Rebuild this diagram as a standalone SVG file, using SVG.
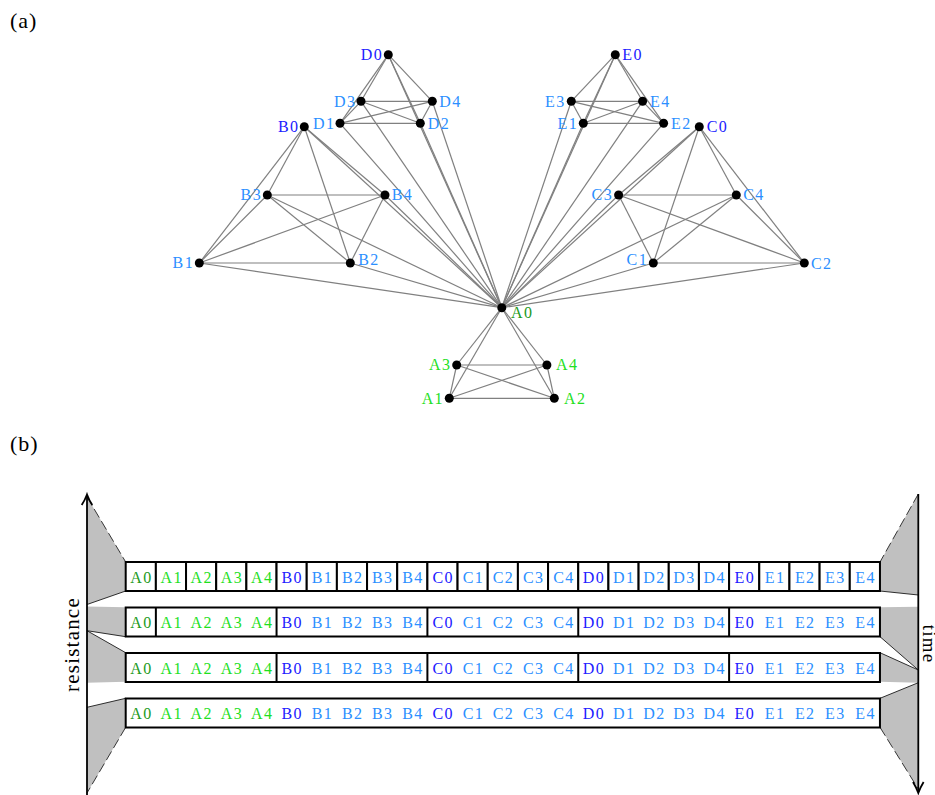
<svg xmlns="http://www.w3.org/2000/svg" width="935" height="795" viewBox="0 0 935 795">
<style>
.lab{font-family:"Liberation Serif","Times New Roman",serif;font-size:16px;letter-spacing:1.4px}
.big{font-family:"Liberation Serif","Times New Roman",serif;font-size:22px;letter-spacing:1px}
.ax{font-family:"Liberation Serif","Times New Roman",serif;font-size:21px;letter-spacing:1.2px}
.ag{fill:#229a22}.al{fill:#1ee01e}.ld{fill:#2020ff}.mb{fill:#2b8fff}
.dot{fill:#000}
.e line{stroke:#808080;stroke-width:1.2}
.cell{fill:#fff;stroke:#000;stroke-width:2}
.div{stroke:#000;stroke-width:2}
.gr{fill:#c0c0c0;stroke:none}
.sl{stroke:#000;stroke-width:0.8;fill:none}
.dl{stroke:#222;stroke-width:0.9;fill:none;stroke-dasharray:10 4}
.axis{stroke:#000;stroke-width:1.8;fill:none}
</style>
<text class="big" x="10" y="28">(a)</text>
<text class="big" x="10" y="451">(b)</text>
<g id="connectors" class="e">
<line x1="501.8" y1="307.7" x2="449.3" y2="398.3"/><line x1="501.8" y1="307.7" x2="554.3" y2="398.3"/><line x1="501.8" y1="307.7" x2="456.7" y2="365"/><line x1="501.8" y1="307.7" x2="546.9" y2="365"/>
<line x1="449.3" y1="398.3" x2="554.3" y2="398.3"/><line x1="449.3" y1="398.3" x2="456.7" y2="365"/><line x1="449.3" y1="398.3" x2="546.9" y2="365"/><line x1="554.3" y1="398.3" x2="456.7" y2="365"/><line x1="554.3" y1="398.3" x2="546.9" y2="365"/><line x1="456.7" y1="365" x2="546.9" y2="365"/>
<line x1="304.3" y1="126.7" x2="199.3" y2="263"/><line x1="304.3" y1="126.7" x2="350.3" y2="263"/><line x1="304.3" y1="126.7" x2="267.3" y2="195"/><line x1="304.3" y1="126.7" x2="385" y2="195"/>
<line x1="199.3" y1="263" x2="350.3" y2="263"/><line x1="199.3" y1="263" x2="267.3" y2="195"/><line x1="199.3" y1="263" x2="385" y2="195"/><line x1="350.3" y1="263" x2="267.3" y2="195"/><line x1="350.3" y1="263" x2="385" y2="195"/><line x1="267.3" y1="195" x2="385" y2="195"/>
<line x1="699.3" y1="126.7" x2="653.3" y2="263"/><line x1="699.3" y1="126.7" x2="804.3" y2="263"/><line x1="699.3" y1="126.7" x2="618.6" y2="195"/><line x1="699.3" y1="126.7" x2="736.3" y2="195"/>
<line x1="653.3" y1="263" x2="804.3" y2="263"/><line x1="653.3" y1="263" x2="618.6" y2="195"/><line x1="653.3" y1="263" x2="736.3" y2="195"/><line x1="804.3" y1="263" x2="618.6" y2="195"/><line x1="804.3" y1="263" x2="736.3" y2="195"/><line x1="618.6" y1="195" x2="736.3" y2="195"/>
<line x1="388.3" y1="54.7" x2="340" y2="123.3"/><line x1="388.3" y1="54.7" x2="420.3" y2="123.3"/><line x1="388.3" y1="54.7" x2="361" y2="101.3"/><line x1="388.3" y1="54.7" x2="432.3" y2="101.3"/>
<line x1="340" y1="123.3" x2="420.3" y2="123.3"/><line x1="340" y1="123.3" x2="361" y2="101.3"/><line x1="340" y1="123.3" x2="432.3" y2="101.3"/><line x1="420.3" y1="123.3" x2="361" y2="101.3"/><line x1="420.3" y1="123.3" x2="432.3" y2="101.3"/><line x1="361" y1="101.3" x2="432.3" y2="101.3"/>
<line x1="615.3" y1="54.7" x2="583.3" y2="123.3"/><line x1="615.3" y1="54.7" x2="663.6" y2="123.3"/><line x1="615.3" y1="54.7" x2="571.3" y2="101.3"/><line x1="615.3" y1="54.7" x2="642.6" y2="101.3"/>
<line x1="583.3" y1="123.3" x2="663.6" y2="123.3"/><line x1="583.3" y1="123.3" x2="571.3" y2="101.3"/><line x1="583.3" y1="123.3" x2="642.6" y2="101.3"/><line x1="663.6" y1="123.3" x2="571.3" y2="101.3"/><line x1="663.6" y1="123.3" x2="642.6" y2="101.3"/><line x1="571.3" y1="101.3" x2="642.6" y2="101.3"/>
<line x1="501.8" y1="307.7" x2="304.3" y2="126.7"/><line x1="501.8" y1="307.7" x2="199.3" y2="263"/><line x1="501.8" y1="307.7" x2="350.3" y2="263"/><line x1="501.8" y1="307.7" x2="267.3" y2="195"/><line x1="501.8" y1="307.7" x2="385" y2="195"/>
<line x1="501.8" y1="307.7" x2="699.3" y2="126.7"/><line x1="501.8" y1="307.7" x2="653.3" y2="263"/><line x1="501.8" y1="307.7" x2="804.3" y2="263"/><line x1="501.8" y1="307.7" x2="618.6" y2="195"/><line x1="501.8" y1="307.7" x2="736.3" y2="195"/>
<line x1="501.8" y1="307.7" x2="388.3" y2="54.7"/><line x1="501.8" y1="307.7" x2="340" y2="123.3"/><line x1="501.8" y1="307.7" x2="420.3" y2="123.3"/><line x1="501.8" y1="307.7" x2="361" y2="101.3"/><line x1="501.8" y1="307.7" x2="432.3" y2="101.3"/>
<line x1="501.8" y1="307.7" x2="615.3" y2="54.7"/><line x1="501.8" y1="307.7" x2="583.3" y2="123.3"/><line x1="501.8" y1="307.7" x2="663.6" y2="123.3"/><line x1="501.8" y1="307.7" x2="571.3" y2="101.3"/><line x1="501.8" y1="307.7" x2="642.6" y2="101.3"/>
</g>
<g id="node-A0"><circle class="dot" cx="501.8" cy="307.7" r="4.5"/><text class="lab ag" x="511" y="318">A0</text></g>
<g id="node-A1"><circle class="dot" cx="449.3" cy="398.3" r="4.5"/><text class="lab al" x="444" y="403.6" text-anchor="end">A1</text></g>
<g id="node-A2"><circle class="dot" cx="554.3" cy="398.3" r="4.5"/><text class="lab al" x="564" y="403.6">A2</text></g>
<g id="node-A3"><circle class="dot" cx="456.7" cy="365" r="4.5"/><text class="lab al" x="451.4" y="370.3" text-anchor="end">A3</text></g>
<g id="node-A4"><circle class="dot" cx="546.9" cy="365" r="4.5"/><text class="lab al" x="556" y="370.3">A4</text></g>
<g id="node-B0"><circle class="dot" cx="304.3" cy="126.7" r="4.5"/><text class="lab ld" x="299.4" y="132.3" text-anchor="end">B0</text></g>
<g id="node-B1"><circle class="dot" cx="199.3" cy="263" r="4.5"/><text class="lab mb" x="194.1" y="268.3" text-anchor="end">B1</text></g>
<g id="node-B2"><circle class="dot" cx="350.3" cy="263" r="4.5"/><text class="lab mb" x="358.3" y="264.8">B2</text></g>
<g id="node-B3"><circle class="dot" cx="267.3" cy="195" r="4.5"/><text class="lab mb" x="262.1" y="200.3" text-anchor="end">B3</text></g>
<g id="node-B4"><circle class="dot" cx="385" cy="195" r="4.5"/><text class="lab mb" x="391.7" y="200.3">B4</text></g>
<g id="node-C0"><circle class="dot" cx="699.3" cy="126.7" r="4.5"/><text class="lab ld" x="706.7" y="132.3">C0</text></g>
<g id="node-C1"><circle class="dot" cx="653.3" cy="263" r="4.5"/><text class="lab mb" x="648.1" y="265.3" text-anchor="end">C1</text></g>
<g id="node-C2"><circle class="dot" cx="804.3" cy="263" r="4.5"/><text class="lab mb" x="811" y="269.3">C2</text></g>
<g id="node-C3"><circle class="dot" cx="618.6" cy="195" r="4.5"/><text class="lab mb" x="613.1" y="200.3" text-anchor="end">C3</text></g>
<g id="node-C4"><circle class="dot" cx="736.3" cy="195" r="4.5"/><text class="lab mb" x="743.3" y="200.3">C4</text></g>
<g id="node-D0"><circle class="dot" cx="388.3" cy="54.7" r="4.5"/><text class="lab ld" x="383.1" y="60.3" text-anchor="end">D0</text></g>
<g id="node-D1"><circle class="dot" cx="340" cy="123.3" r="4.5"/><text class="lab mb" x="335.4" y="128.6" text-anchor="end">D1</text></g>
<g id="node-D2"><circle class="dot" cx="420.3" cy="123.3" r="4.5"/><text class="lab mb" x="427.7" y="128.6">D2</text></g>
<g id="node-D3"><circle class="dot" cx="361" cy="101.3" r="4.5"/><text class="lab mb" x="356.4" y="106.6" text-anchor="end">D3</text></g>
<g id="node-D4"><circle class="dot" cx="432.3" cy="101.3" r="4.5"/><text class="lab mb" x="439.3" y="106.6">D4</text></g>
<g id="node-E0"><circle class="dot" cx="615.3" cy="54.7" r="4.5"/><text class="lab ld" x="622.3" y="60.3">E0</text></g>
<g id="node-E1"><circle class="dot" cx="583.3" cy="123.3" r="4.5"/><text class="lab mb" x="578.1" y="128.6" text-anchor="end">E1</text></g>
<g id="node-E2"><circle class="dot" cx="663.6" cy="123.3" r="4.5"/><text class="lab mb" x="671" y="128.6">E2</text></g>
<g id="node-E3"><circle class="dot" cx="571.3" cy="101.3" r="4.5"/><text class="lab mb" x="565.7" y="106.6" text-anchor="end">E3</text></g>
<g id="node-E4"><circle class="dot" cx="642.6" cy="101.3" r="4.5"/><text class="lab mb" x="650" y="106.6">E4</text></g>

<g id="gray-left">
<polygon class="gr" points="87,497 125.7,562 125.7,591 87,604.5"/>
<line class="dl" x1="87" y1="497" x2="125.7" y2="562"/><line class="sl" x1="125.7" y1="591" x2="87" y2="604.5"/>
<polygon class="gr" points="87,606.5 125.7,607.3 125.7,636.7 87,630.7"/>
<line class="sl" x1="125.7" y1="636.7" x2="87" y2="630.7"/>
<polygon class="gr" points="87,630.7 125.7,652.7 125.7,681.7 87,682.7"/>
<line class="sl" x1="87" y1="630.7" x2="125.7" y2="652.7"/>
<polygon class="gr" points="87,707.3 125.7,698.3 125.7,727.3 87,793"/>
<line class="sl" x1="87" y1="707.3" x2="125.7" y2="698.3"/><line class="dl" x1="125.7" y1="727.3" x2="87" y2="793"/>
</g>
<g id="gray-right">
<polygon class="gr" points="918.3,494 880,562 880,591 918.3,595"/>
<line class="dl" x1="918.3" y1="494" x2="880" y2="562"/><line class="sl" x1="880" y1="591" x2="918.3" y2="595"/>
<polygon class="gr" points="880,607.3 918.3,606.7 918.3,670 880,636.7"/>
<line class="sl" x1="880" y1="636.7" x2="918.3" y2="670"/>
<polygon class="gr" points="880,652.7 918.3,670 918.3,682.7 880,681.7"/>
<line class="sl" x1="880" y1="652.7" x2="918.3" y2="670"/>
<polygon class="gr" points="918.3,682.7 880,698.3 880,727.3 918.3,789"/>
<line class="sl" x1="918.3" y1="682.7" x2="880" y2="698.3"/><line class="dl" x1="880" y1="727.3" x2="918.3" y2="789"/>
</g>

<g id="row1">
<rect class="cell" x="125.7" y="562" width="30.17" height="29"/><rect class="cell" x="155.87" y="562" width="30.17" height="29"/><rect class="cell" x="186.04" y="562" width="30.17" height="29"/><rect class="cell" x="216.21" y="562" width="30.17" height="29"/><rect class="cell" x="246.38" y="562" width="30.17" height="29"/>
<rect class="cell" x="276.55" y="562" width="30.17" height="29"/><rect class="cell" x="306.72" y="562" width="30.17" height="29"/><rect class="cell" x="336.89" y="562" width="30.17" height="29"/><rect class="cell" x="367.06" y="562" width="30.17" height="29"/><rect class="cell" x="397.23" y="562" width="30.17" height="29"/>
<rect class="cell" x="427.4" y="562" width="30.17" height="29"/><rect class="cell" x="457.57" y="562" width="30.17" height="29"/><rect class="cell" x="487.74" y="562" width="30.17" height="29"/><rect class="cell" x="517.91" y="562" width="30.17" height="29"/><rect class="cell" x="548.08" y="562" width="30.17" height="29"/>
<rect class="cell" x="578.25" y="562" width="30.17" height="29"/><rect class="cell" x="608.42" y="562" width="30.17" height="29"/><rect class="cell" x="638.59" y="562" width="30.17" height="29"/><rect class="cell" x="668.76" y="562" width="30.17" height="29"/><rect class="cell" x="698.93" y="562" width="30.17" height="29"/>
<rect class="cell" x="729.1" y="562" width="30.17" height="29"/><rect class="cell" x="759.27" y="562" width="30.17" height="29"/><rect class="cell" x="789.44" y="562" width="30.17" height="29"/><rect class="cell" x="819.61" y="562" width="30.17" height="29"/><rect class="cell" x="849.78" y="562" width="30.17" height="29"/>
<g class="lab" text-anchor="middle">
<text class="ag" x="141.5" y="582.8">A0</text><text class="al" x="171.7" y="582.8">A1</text><text class="al" x="201.8" y="582.8">A2</text><text class="al" x="232" y="582.8">A3</text><text class="al" x="262.2" y="582.8">A4</text>
<text class="ld" x="292.3" y="582.8">B0</text><text class="mb" x="322.5" y="582.8">B1</text><text class="mb" x="352.7" y="582.8">B2</text><text class="mb" x="382.8" y="582.8">B3</text><text class="mb" x="413" y="582.8">B4</text>
<text class="ld" x="443.2" y="582.8">C0</text><text class="mb" x="473.4" y="582.8">C1</text><text class="mb" x="503.5" y="582.8">C2</text><text class="mb" x="533.7" y="582.8">C3</text><text class="mb" x="563.9" y="582.8">C4</text>
<text class="ld" x="594" y="582.8">D0</text><text class="mb" x="624.2" y="582.8">D1</text><text class="mb" x="654.4" y="582.8">D2</text><text class="mb" x="684.5" y="582.8">D3</text><text class="mb" x="714.7" y="582.8">D4</text>
<text class="ld" x="744.9" y="582.8">E0</text><text class="mb" x="775" y="582.8">E1</text><text class="mb" x="805.2" y="582.8">E2</text><text class="mb" x="835.4" y="582.8">E3</text><text class="mb" x="865.6" y="582.8">E4</text>
</g>
</g>
<g id="row2">
<rect class="cell" x="125.7" y="607.5" width="754.25" height="29"/>
<line class="div" x1="155.87" y1="607.5" x2="155.87" y2="636.5"/><line class="div" x1="276.55" y1="607.5" x2="276.55" y2="636.5"/><line class="div" x1="427.4" y1="607.5" x2="427.4" y2="636.5"/><line class="div" x1="578.25" y1="607.5" x2="578.25" y2="636.5"/><line class="div" x1="729.1" y1="607.5" x2="729.1" y2="636.5"/>
<g class="lab" text-anchor="middle">
<text class="ag" x="141.5" y="628.3">A0</text><text class="al" x="171.7" y="628.3">A1</text><text class="al" x="201.8" y="628.3">A2</text><text class="al" x="232" y="628.3">A3</text><text class="al" x="262.2" y="628.3">A4</text>
<text class="ld" x="292.3" y="628.3">B0</text><text class="mb" x="322.5" y="628.3">B1</text><text class="mb" x="352.7" y="628.3">B2</text><text class="mb" x="382.8" y="628.3">B3</text><text class="mb" x="413" y="628.3">B4</text>
<text class="ld" x="443.2" y="628.3">C0</text><text class="mb" x="473.4" y="628.3">C1</text><text class="mb" x="503.5" y="628.3">C2</text><text class="mb" x="533.7" y="628.3">C3</text><text class="mb" x="563.9" y="628.3">C4</text>
<text class="ld" x="594" y="628.3">D0</text><text class="mb" x="624.2" y="628.3">D1</text><text class="mb" x="654.4" y="628.3">D2</text><text class="mb" x="684.5" y="628.3">D3</text><text class="mb" x="714.7" y="628.3">D4</text>
<text class="ld" x="744.9" y="628.3">E0</text><text class="mb" x="775" y="628.3">E1</text><text class="mb" x="805.2" y="628.3">E2</text><text class="mb" x="835.4" y="628.3">E3</text><text class="mb" x="865.6" y="628.3">E4</text>
</g>
</g>
<g id="row3">
<rect class="cell" x="125.7" y="653" width="754.25" height="29"/>
<line class="div" x1="276.55" y1="653" x2="276.55" y2="682"/><line class="div" x1="427.4" y1="653" x2="427.4" y2="682"/><line class="div" x1="578.25" y1="653" x2="578.25" y2="682"/><line class="div" x1="729.1" y1="653" x2="729.1" y2="682"/>
<g class="lab" text-anchor="middle">
<text class="ag" x="141.5" y="673.8">A0</text><text class="al" x="171.7" y="673.8">A1</text><text class="al" x="201.8" y="673.8">A2</text><text class="al" x="232" y="673.8">A3</text><text class="al" x="262.2" y="673.8">A4</text>
<text class="ld" x="292.3" y="673.8">B0</text><text class="mb" x="322.5" y="673.8">B1</text><text class="mb" x="352.7" y="673.8">B2</text><text class="mb" x="382.8" y="673.8">B3</text><text class="mb" x="413" y="673.8">B4</text>
<text class="ld" x="443.2" y="673.8">C0</text><text class="mb" x="473.4" y="673.8">C1</text><text class="mb" x="503.5" y="673.8">C2</text><text class="mb" x="533.7" y="673.8">C3</text><text class="mb" x="563.9" y="673.8">C4</text>
<text class="ld" x="594" y="673.8">D0</text><text class="mb" x="624.2" y="673.8">D1</text><text class="mb" x="654.4" y="673.8">D2</text><text class="mb" x="684.5" y="673.8">D3</text><text class="mb" x="714.7" y="673.8">D4</text>
<text class="ld" x="744.9" y="673.8">E0</text><text class="mb" x="775" y="673.8">E1</text><text class="mb" x="805.2" y="673.8">E2</text><text class="mb" x="835.4" y="673.8">E3</text><text class="mb" x="865.6" y="673.8">E4</text>
</g>
</g>
<g id="row4">
<rect class="cell" x="125.7" y="698.5" width="754.25" height="29"/>
<g class="lab" text-anchor="middle">
<text class="ag" x="141.5" y="719.3">A0</text><text class="al" x="171.7" y="719.3">A1</text><text class="al" x="201.8" y="719.3">A2</text><text class="al" x="232" y="719.3">A3</text><text class="al" x="262.2" y="719.3">A4</text>
<text class="ld" x="292.3" y="719.3">B0</text><text class="mb" x="322.5" y="719.3">B1</text><text class="mb" x="352.7" y="719.3">B2</text><text class="mb" x="382.8" y="719.3">B3</text><text class="mb" x="413" y="719.3">B4</text>
<text class="ld" x="443.2" y="719.3">C0</text><text class="mb" x="473.4" y="719.3">C1</text><text class="mb" x="503.5" y="719.3">C2</text><text class="mb" x="533.7" y="719.3">C3</text><text class="mb" x="563.9" y="719.3">C4</text>
<text class="ld" x="594" y="719.3">D0</text><text class="mb" x="624.2" y="719.3">D1</text><text class="mb" x="654.4" y="719.3">D2</text><text class="mb" x="684.5" y="719.3">D3</text><text class="mb" x="714.7" y="719.3">D4</text>
<text class="ld" x="744.9" y="719.3">E0</text><text class="mb" x="775" y="719.3">E1</text><text class="mb" x="805.2" y="719.3">E2</text><text class="mb" x="835.4" y="719.3">E3</text><text class="mb" x="865.6" y="719.3">E4</text>
</g>
</g>

<g id="axes">
<line class="axis" x1="87" y1="795" x2="87" y2="495"/>
<path class="axis" d="M81.7,505 Q85,500 87,494.5 Q89,500 92.3,505"/>
<line class="axis" x1="918.3" y1="494" x2="918.3" y2="792"/>
<path class="axis" d="M913,782 Q916.3,787.5 918.3,793 Q920.3,787.5 923.6,782"/>
<text class="ax" transform="translate(78.5,644.5) rotate(-90)" text-anchor="middle">resistance</text>
<text class="ax" style="font-size:19px" transform="translate(922.5,644) rotate(90)" text-anchor="middle">time</text>
</g>
</svg>
